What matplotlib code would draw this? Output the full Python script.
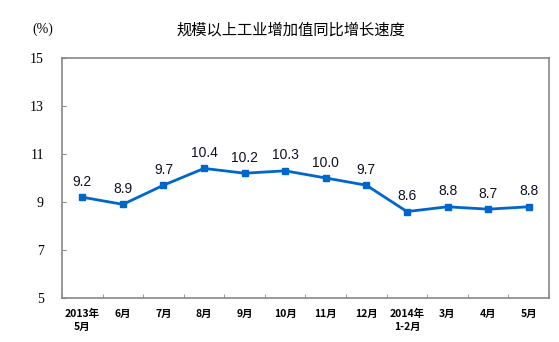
import numpy as np
import matplotlib
from matplotlib import pyplot as plt

matplotlib.rcParams['font.family'] = ['Noto Sans CJK SC', 'DejaVu Sans']
matplotlib.rcParams['axes.unicode_minus'] = False

# 数据
months = ['2013年\n5月', '6月', '7月', '8月', '9月', '10月', '11月', '12月',
          '2014年\n1-2月', '3月', '4月', '5月']
growth = [9.2, 8.9, 9.7, 10.4, 10.2, 10.3, 10.0, 9.7, 8.6, 8.8, 8.7, 8.8]
yticks = [5, 7, 9, 11, 13, 15]

fig = plt.figure(figsize=(5.59, 3.42), dpi=100)
ax = fig.add_axes([0.111, 0.129, 0.871, 0.701])

x = np.arange(len(months))
ax.plot(x, growth, color='#0066CC', linewidth=2, marker='s', markersize=5)
for xi, v in zip(x, growth):
    ax.annotate('%.1f' % v, (xi, v), textcoords='offset points', xytext=(0, 6),
                ha='center', va='bottom', fontsize=10, family='Liberation Sans',
                color='#111122')

ax.set_xlim(-0.5, len(months) - 0.5)
ax.set_ylim(5, 15)
ax.set_yticks(yticks)
ax.set_yticklabels([str(t) for t in yticks], family='Liberation Serif', fontsize=10)
ax.set_xticks(x)
ax.set_xticklabels(months, fontsize=7.5, fontweight='bold', linespacing=1.3)
ax.set_xticks(np.arange(len(months) + 1) - 0.5, minor=True)
ax.tick_params(axis='x', which='major', length=0, pad=8)
ax.tick_params(axis='x', which='minor', direction='in', length=3, color='#888888')
ax.tick_params(axis='y', direction='in', length=3, color='#888888', pad=13)
for s in ax.spines.values():
    s.set_color('#888888')
    s.set_linewidth(1.2)

fig.text(0.077, 0.913, '(%)', ha='center', va='center', family='Liberation Serif', fontsize=10)
fig.text(0.52, 0.913, '规模以上工业增加值同比增长速度', ha='center', va='center', fontsize=11)

fig.savefig('out.png', dpi=100)
